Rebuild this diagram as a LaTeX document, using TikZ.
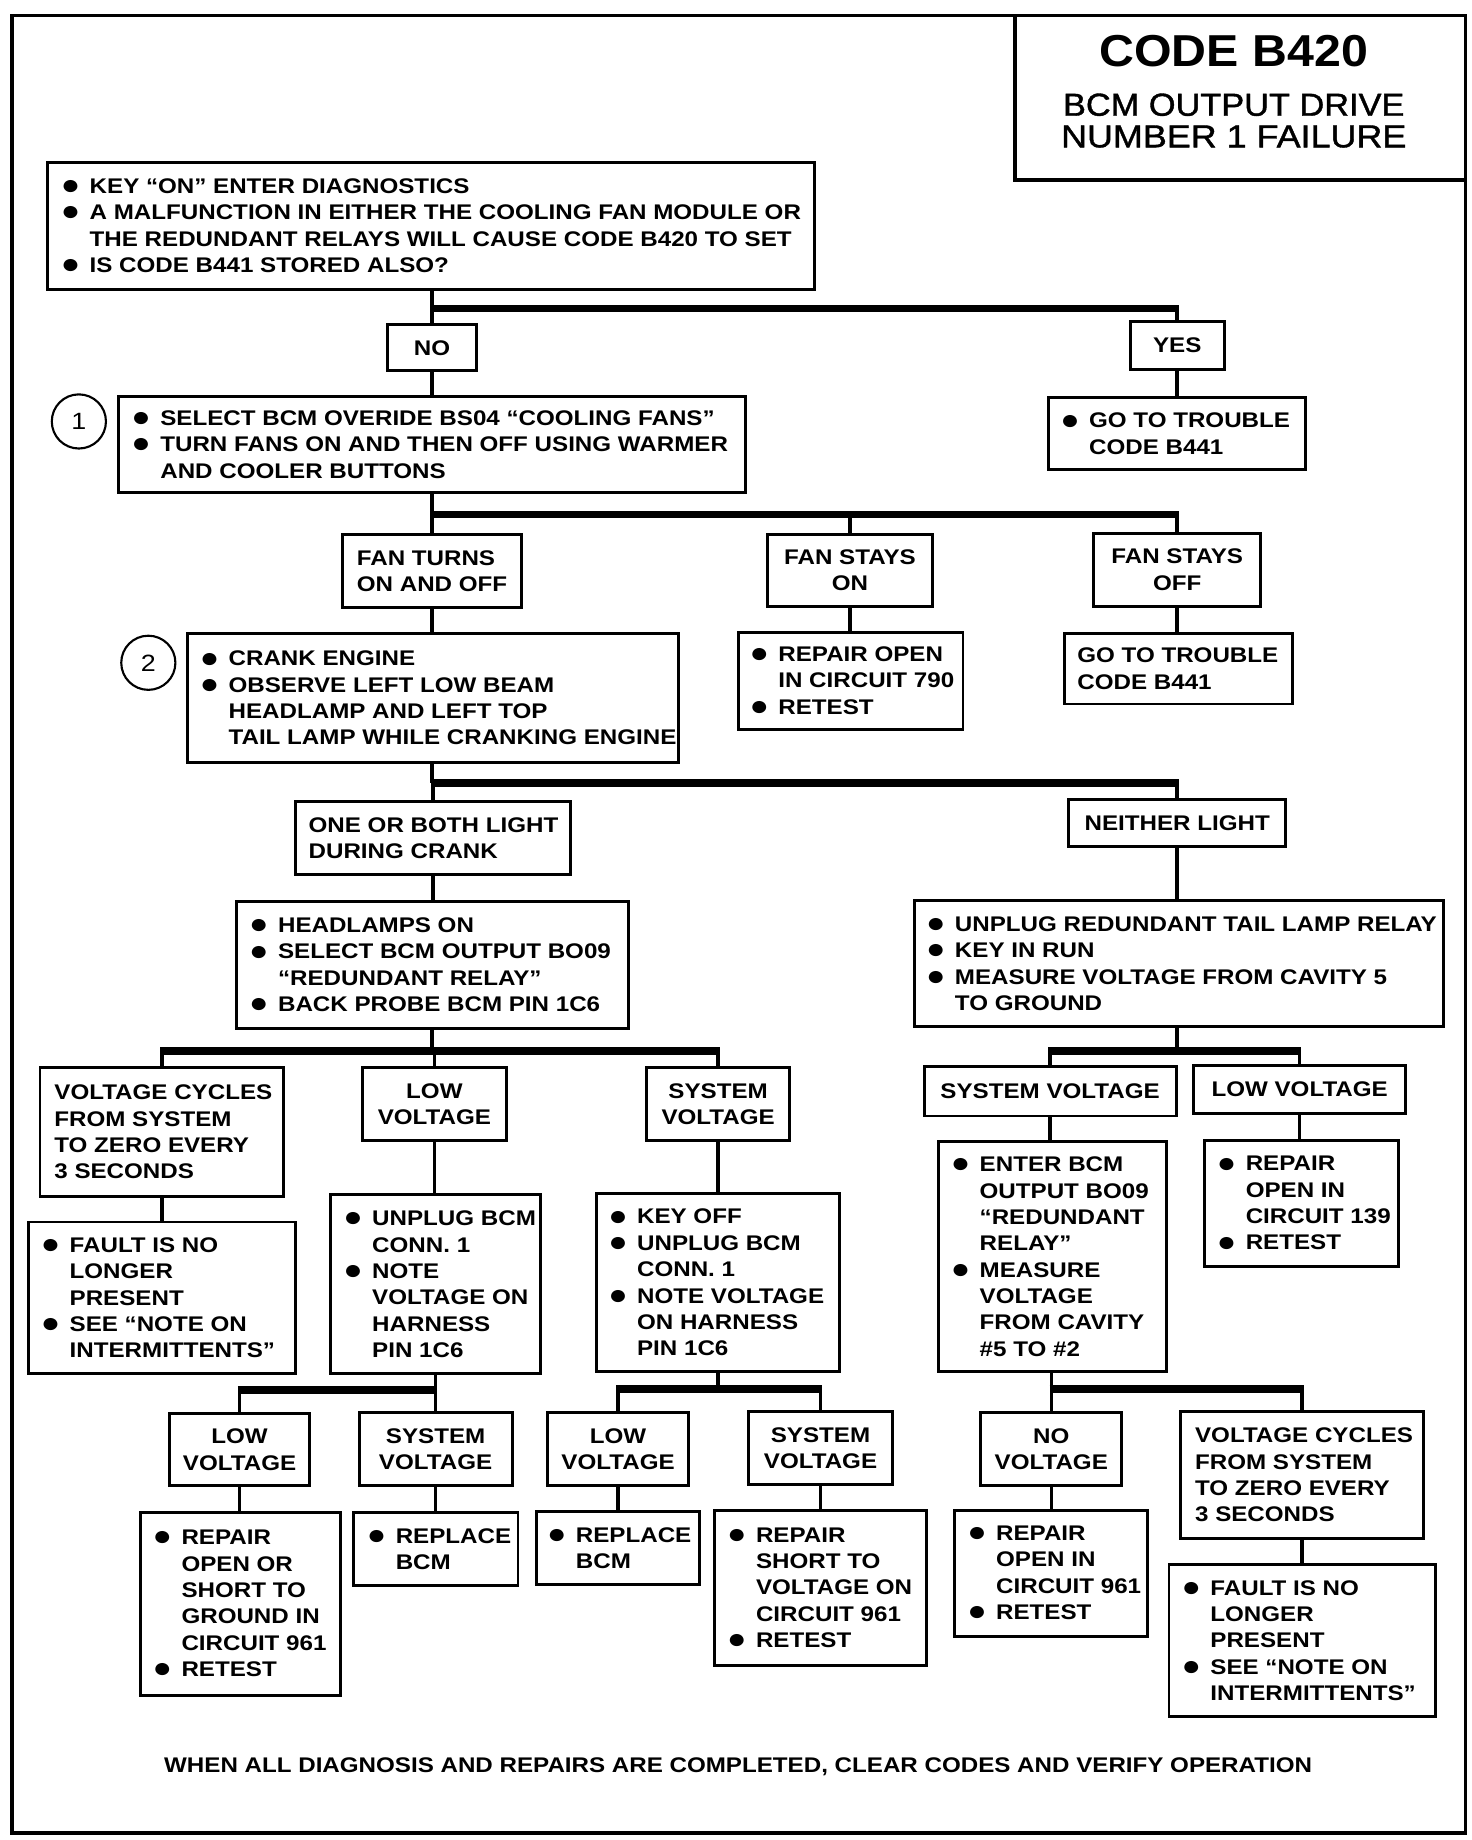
\documentclass[tikz,border=0pt]{standalone}
\usepackage{fontspec}
\setmainfont{Liberation Sans}
\newfontfamily\bodyfont{Liberation Sans}[FakeStretch=1.14]
\newfontfamily\headfont{Liberation Sans}[FakeStretch=1.08]
\newfontfamily\headfontm{Liberation Sans}[FakeStretch=1.08, FakeBold=1.2]
\newfontfamily\headfontw{Liberation Sans}[FakeStretch=1.13, FakeBold=1.2]

\newcommand\bl{\makebox[20pt][l]{\makebox[0pt][l]{\hspace*{-4.5pt}\raisebox{-1pt}{\fontsize{24}{0}\selectfont ●}}}}
\newcommand\ind{\hspace*{20pt}}

\tikzset{
  box/.style={draw, rectangle, line width=2.5pt, inner sep=0pt},
  txt/.style={inner sep=0pt, align=left, font=\bodyfont\bfseries\fontsize{18}{22.4}\selectfont},
  ctr/.style={box, align=center, font=\bodyfont\bfseries\fontsize{18}{22.4}\selectfont},
  vline/.style={line width=3pt},
  bar/.style={line width=6.5pt, shorten <=-1.5pt, shorten >=-1.5pt},
  marker/.style={draw, circle, line width=1.8pt, minimum size=46pt, inner sep=0pt,
    font=\bodyfont\fontsize{20}{20}\selectfont},
}

% left-aligned box: name, x1, y1, x2, y2, text-left x, content
\newcommand\lbox[7]{%
  \node[box, minimum width={#4-#2}, minimum height={#5-#3}] (#1) at ({(#2+#4)/2},{(#3+#5)/2}) {};
  \node[txt, anchor=west] (#1-t) at (#6,{(#3+#5)/2}) {#7};
}
% centred box: name, x1, y1, x2, y2, content
\newcommand\cbox[6]{%
  \node[ctr, minimum width={#4-#2}, minimum height={#5-#3}] (#1) at ({(#2+#4)/2},{(#3+#5)/2}) {#6};
}
\newcommand\onelink[2]{\draw[vline] (#1.south) -- (#1.south |- #2.north);}

\begin{document}
\begin{tikzpicture}[x=1pt,y=-1pt]
\useasboundingbox (0,0) rectangle (1250,1563);

% frame and title
\draw[line width=3pt] (10,13) rectangle (1245,1557);
\node[draw, line width=3pt, minimum width=383pt, minimum height=140pt, inner sep=0pt] (title) at (1053.5,83) {};
\node[font=\headfont\bfseries\fontsize{38}{38}\selectfont] (t1) at (1048,43) {CODE B420};
\node[font=\headfontm\fontsize{27}{27}\selectfont] (t2) at (1048,89) {BCM OUTPUT DRIVE};
\node[font=\headfontw\fontsize{27}{27}\selectfont] (t3) at (1048,116) {NUMBER 1 FAILURE};

% level 0
\lbox{A}{40}{138}{692}{246}{56}{\bl KEY “ON” ENTER DIAGNOSTICS\\ \bl A MALFUNCTION IN EITHER THE COOLING FAN MODULE OR\\ \ind THE REDUNDANT RELAYS WILL CAUSE CODE B420 TO SET\\ \bl IS CODE B441 STORED ALSO?}

\cbox{no}{329}{276}{405}{315}{NO}
\cbox{yes}{960}{273}{1040}{314}{YES}

\node[marker] (c1) at (67,358) {1};
\lbox{s1}{101}{337}{633}{418}{116}{\bl SELECT BCM OVERIDE BS04 “COOLING FANS”\\ \bl TURN FANS ON AND THEN OFF USING WARMER\\ \ind AND COOLER BUTTONS}
\lbox{gt1}{891}{338}{1109}{399}{905}{\bl GO TO TROUBLE\\ \ind CODE B441}

\node[box, align=left, font=\bodyfont\bfseries\fontsize{18}{22.4}\selectfont, minimum width=152pt, minimum height=62pt] (ft) at (367,485) {FAN TURNS\\ON AND OFF};
\cbox{fso}{652}{454}{792}{515}{FAN STAYS\\ON}
\cbox{fsf}{929}{453}{1071}{515}{FAN STAYS\\OFF}

\node[marker] (c2) at (126,563) {2};
\lbox{s2}{159}{538}{576}{648}{174}{\bl CRANK ENGINE\\ \bl OBSERVE LEFT LOW BEAM\\ \ind HEADLAMP AND LEFT TOP\\ \ind TAIL LAMP WHILE CRANKING ENGINE}
\lbox{r790}{627}{537}{818}{620}{641}{\bl REPAIR OPEN\\ \ind IN CIRCUIT 790\\ \bl RETEST}
\lbox{gt2}{904}{538}{1098}{598}{915}{GO TO TROUBLE\\ CODE B441}

\lbox{ob}{251}{681}{485}{743}{262}{ONE OR BOTH LIGHT\\ DURING CRANK}
\cbox{nl1}{908}{679}{1092}{719}{NEITHER LIGHT}

\lbox{hl}{201}{766}{534}{874}{216}{\bl HEADLAMPS ON\\ \bl SELECT BCM OUTPUT BO09\\ \ind “REDUNDANT RELAY”\\ \bl BACK PROBE BCM PIN 1C6}
\lbox{nl}{777}{765}{1226}{872}{791}{\bl UNPLUG REDUNDANT TAIL LAMP RELAY\\ \bl KEY IN RUN\\ \bl MEASURE VOLTAGE FROM CAVITY 5\\ \ind TO GROUND}

\lbox{vcl}{34}{907}{241}{1016}{46}{VOLTAGE CYCLES\\ FROM SYSTEM\\ TO ZERO EVERY\\ 3 SECONDS}
\cbox{lvl}{308}{907}{430}{969}{LOW\\VOLTAGE}
\cbox{svl}{549}{907}{671}{969}{SYSTEM\\VOLTAGE}
\cbox{svr}{785}{906}{999}{948}{SYSTEM VOLTAGE}
\cbox{lvr}{1014}{905}{1194}{946}{LOW VOLTAGE}

\lbox{fl}{24}{1038}{251}{1167}{39}{\bl FAULT IS NO\\ \ind LONGER\\ \ind PRESENT\\ \bl SEE “NOTE ON\\ \ind INTERMITTENTS”}
\lbox{up}{281}{1015}{459}{1167}{296}{\bl UNPLUG BCM\\ \ind CONN. 1\\ \bl NOTE\\ \ind VOLTAGE ON\\ \ind HARNESS\\ \ind PIN 1C6}
\lbox{ko}{507}{1014}{713}{1165}{521}{\bl KEY OFF\\ \bl UNPLUG BCM\\ \ind CONN. 1\\ \bl NOTE VOLTAGE\\ \ind ON HARNESS\\ \ind PIN 1C6}
\lbox{en}{797}{970}{991}{1165}{812}{\bl ENTER BCM\\ \ind OUTPUT BO09\\ \ind “REDUNDANT\\ \ind RELAY”\\ \bl MEASURE\\ \ind VOLTAGE\\ \ind FROM CAVITY\\ \ind \#5 TO \#2}
\lbox{r139}{1023}{969}{1188}{1076}{1038}{\bl REPAIR\\ \ind OPEN IN\\ \ind CIRCUIT 139\\ \bl RETEST}

\cbox{ll}{144}{1201}{263}{1262}{LOW\\VOLTAGE}
\cbox{ls}{305}{1200}{435}{1262}{SYSTEM\\VOLTAGE}
\cbox{lv2}{465}{1200}{585}{1262}{LOW\\VOLTAGE}
\cbox{sv2}{636}{1199}{758}{1261}{SYSTEM\\VOLTAGE}
\cbox{nov}{833}{1200}{953}{1262}{NO\\VOLTAGE}
\lbox{vcr}{1003}{1199}{1209}{1307}{1015}{VOLTAGE CYCLES\\ FROM SYSTEM\\ TO ZERO EVERY\\ 3 SECONDS}

\lbox{r961a}{119}{1285}{289}{1440}{134}{\bl REPAIR\\ \ind OPEN OR\\ \ind SHORT TO\\ \ind GROUND IN\\ \ind CIRCUIT 961\\ \bl RETEST}
\lbox{rpa}{300}{1285}{440}{1347}{316}{\bl REPLACE\\ \ind BCM}
\lbox{rpb}{456}{1284}{594}{1346}{469}{\bl REPLACE\\ \ind BCM}
\lbox{rs}{607}{1283}{787}{1415}{622}{\bl REPAIR\\ \ind SHORT TO\\ \ind VOLTAGE ON\\ \ind CIRCUIT 961\\ \bl RETEST}
\lbox{r961b}{811}{1283}{975}{1390}{826}{\bl REPAIR\\ \ind OPEN IN\\ \ind CIRCUIT 961\\ \bl RETEST}
\lbox{fr}{993}{1329}{1219}{1458}{1008}{\bl FAULT IS NO\\ \ind LONGER\\ \ind PRESENT\\ \bl SEE “NOTE ON\\ \ind INTERMITTENTS”}

\node[txt] (foot) at (627,1501) {WHEN ALL DIAGNOSIS AND REPAIRS ARE COMPLETED, CLEAR CODES AND VERIFY OPERATION};

% junctions
\coordinate (j1) at (367,262);
\coordinate (j2) at (367,437);
\coordinate (j3) at (367,665);
\coordinate (j4) at (367,893);
\coordinate (j5) at (1000,893);
\coordinate (j6) at (370,1181);
\coordinate (j7) at (610,1180);
\coordinate (j8) at (893,1180);

% branchings
\draw[vline] (A.south -| j1) -- (j1);
\draw[bar] (no.north |- j1) -- (yes.north |- j1);
\draw[vline] (no.north |- j1) -- (no.north);
\draw[vline] (yes.north |- j1) -- (yes.north);

\draw[vline] (s1.south -| j2) -- (j2);
\draw[bar] (ft.north |- j2) -- (fsf.north |- j2);
\draw[vline] (ft.north |- j2) -- (ft.north);
\draw[vline] (fso.north |- j2) -- (fso.north);
\draw[vline] (fsf.north |- j2) -- (fsf.north);

\draw[vline] (s2.south -| j3) -- (j3);
\draw[bar] (ob.north |- j3) -- (nl1.north |- j3);
\draw[vline] (ob.north |- j3) -- (ob.north);
\draw[vline] (nl1.north |- j3) -- (nl1.north);

\draw[vline] (hl.south -| j4) -- (j4);
\draw[bar] (vcl.north |- j4) -- (svl.north |- j4);
\draw[vline] (vcl.north |- j4) -- (vcl.north);
\draw[vline] (lvl.north |- j4) -- (lvl.north);
\draw[vline] (svl.north |- j4) -- (svl.north);

\draw[vline] (nl.south -| j5) -- (j5);
\draw[bar] (svr.north |- j5) -- (lvr.north |- j5);
\draw[vline] (svr.north |- j5) -- (svr.north);
\draw[vline] (lvr.north |- j5) -- (lvr.north);

\draw[vline] (up.south -| j6) -- (j6);
\draw[bar] (ll.north |- j6) -- (ls.north |- j6);
\draw[vline] (ll.north |- j6) -- (ll.north);
\draw[vline] (ls.north |- j6) -- (ls.north);

\draw[vline] (ko.south -| j7) -- (j7);
\draw[bar] (lv2.north |- j7) -- (sv2.north |- j7);
\draw[vline] (lv2.north |- j7) -- (lv2.north);
\draw[vline] (sv2.north |- j7) -- (sv2.north);

\draw[vline] (en.south -| j8) -- (j8);
\draw[bar] (nov.north |- j8) -- (vcr.north |- j8);
\draw[vline] (nov.north |- j8) -- (nov.north);
\draw[vline] (vcr.north |- j8) -- (vcr.north);

% single links
\onelink{no}{s1}
\onelink{yes}{gt1}
\onelink{ft}{s2}
\onelink{fso}{r790}
\onelink{fsf}{gt2}
\onelink{ob}{hl}
\onelink{nl1}{nl}
\onelink{vcl}{fl}
\onelink{lvl}{up}
\onelink{svl}{ko}
\onelink{svr}{en}
\onelink{lvr}{r139}
\onelink{ll}{r961a}
\onelink{ls}{rpa}
\onelink{lv2}{rpb}
\onelink{sv2}{rs}
\onelink{nov}{r961b}
\onelink{vcr}{fr}
\end{tikzpicture}
\end{document}
